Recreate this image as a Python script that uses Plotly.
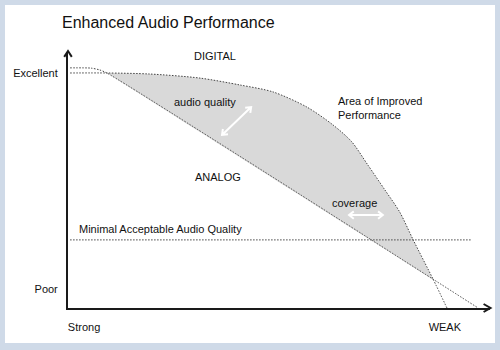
import numpy as np
import plotly.graph_objects as go

# Signal strength runs 0 (strong) .. 100 (weak); audio quality 0 (poor) .. 100
signal_digital = [0.5, 9.2, 19.4, 31.3, 40.8, 48.6, 56.6, 62.8, 67.2, 71.0, 75.1, 78.6, 81.8, 86.5, 89.8]
quality_digital = [91.8, 91.8, 91.4, 89.8, 87.1, 84.4, 78.5, 71.5, 65.0, 56.0, 46.1, 37.5, 26.6, 11.3, 0.0]
signal_analog = [0.5, 5.5, 7.5, 9.2, 97.2]
quality_analog = [93.8, 93.7, 93.0, 91.8, 0.0]
minimal_quality = 26.6
minimal_span = [0.5, 95.5]

tick_quality = [91.8, 7.4]
tick_quality_text = ["Excellent", "Poor"]
tick_signal = [3.8, 89.3]
tick_signal_text = ["Strong", "WEAK"]

FONT = "Liberation Sans, Arial, sans-serif"
INK = "#111111"
AXIS = "#1a1a1a"
CURVE = "#444444"
FILL = "#d9d9d9"
FRAME = "#cfdae8"

W, H = 500, 350
ML, MR, MT, MB = 68, 10, 52, 42
PW, PH = W - ML - MR, H - MT - MB


def to_px(x, y):
    return ML + x / 100 * PW, H - MB - y / 100 * PH


def px_to_paper(px, py):
    return (px - ML) / PW, (H - MB - py) / PH


def px_to_data(px, py):
    return (px - ML) / PW * 100, (H - MB - py) / PH * 100


# Region between the curves: from where they part to where they cross again
dx = np.array(signal_digital)
dq = np.array(quality_digital)
aq_at_d = np.interp(dx, signal_analog, quality_analog)
diff = dq - aq_at_d
start = 1
k = next(i for i in range(start + 1, len(dx)) if diff[i] < 0)
t = diff[k - 1] / (diff[k - 1] - diff[k])
cross_x = dx[k - 1] + t * (dx[k] - dx[k - 1])
cross_y = dq[k - 1] + t * (dq[k] - dq[k - 1])
# corner points are repeated so the smoothed outline keeps sharp tips
poly_x = [signal_digital[start]] + list(dx[start:k]) + [cross_x, cross_x, signal_digital[start], signal_digital[start]]
poly_y = [quality_digital[start]] + list(dq[start:k]) + [cross_y, cross_y, quality_digital[start], quality_digital[start]]

fig = go.Figure()
fig.add_trace(go.Scatter(x=poly_x, y=poly_y, fill="toself", fillcolor=FILL,
                         mode="lines", line=dict(width=0, shape="spline", smoothing=0.8),
                         hoverinfo="skip"))
dotted = dict(color=CURVE, width=1, dash="1.5px,1.5px")
fig.add_trace(go.Scatter(x=signal_digital, y=quality_digital, mode="lines",
                         line=dict(dotted, shape="spline", smoothing=0.8), hoverinfo="skip"))
fig.add_trace(go.Scatter(x=signal_analog, y=quality_analog, mode="lines",
                         line=dict(dotted, shape="spline", smoothing=0.6), hoverinfo="skip"))
fig.add_trace(go.Scatter(x=minimal_span, y=[minimal_quality] * 2, mode="lines",
                         line=dotted, hoverinfo="skip"))


def chevron_pts(tip, back, arm, spread):
    """Pixel points of an open arrow head at tip, pointing away from back."""
    ang = np.arctan2(back[1] - tip[1], back[0] - tip[0])
    return [(tip[0] + arm * np.cos(ang - spread), tip[1] + arm * np.sin(ang - spread)),
            tip,
            (tip[0] + arm * np.cos(ang + spread), tip[1] + arm * np.sin(ang + spread))]


def path_from(points, conv):
    segs = []
    for i, p in enumerate(points):
        x, y = conv(*p)
        segs.append(f"{'M' if i == 0 else 'L'} {x:.4f},{y:.4f}")
    return " ".join(segs)


def double_arrow(a, b, color, width, arm=6.0, spread=np.radians(38)):
    pa, pb = to_px(*a), to_px(*b)
    path = " ".join([
        path_from([pa, pb], px_to_data),
        path_from(chevron_pts(pa, pb, arm, spread), px_to_data),
        path_from(chevron_pts(pb, pa, arm, spread), px_to_data),
    ])
    fig.add_shape(type="path", path=path, xref="x", yref="y",
                  line=dict(color=color, width=width))


# White double arrows inside the shaded region
double_arrow((36.5, 67.6), (43.4, 78.5), "white", 2)
double_arrow((66.6, 36.3), (74.6, 36.3), "white", 2)

# Open arrow heads at the ends of both axes (paper refs so they are not clipped)
x_tip = (W - MR + 0.5, H - MB)
fig.add_shape(type="path", xref="paper", yref="paper",
              path=path_from(chevron_pts(x_tip, (x_tip[0] - 10, x_tip[1]), 8, np.radians(30)), px_to_paper),
              line=dict(color=AXIS, width=2))
y_tip = (ML, MT - 1)
fig.add_shape(type="path", xref="paper", yref="paper",
              path=path_from(chevron_pts(y_tip, (y_tip[0], y_tip[1] + 10), 7, np.radians(33)), px_to_paper),
              line=dict(color=AXIS, width=2))

# White panel inside the light-blue frame
fig.add_shape(type="rect", xref="paper", yref="paper", layer="below",
              x0=(5 - ML) / PW, x1=(495 - ML) / PW,
              y0=(H - MB - 343) / PH, y1=(H - MB - 5) / PH,
              fillcolor="white", line=dict(width=0))


def label(text, x, y, xanchor="center", align="center", angle=0):
    fig.add_annotation(text=text, x=x, y=y, xref="x", yref="y", showarrow=False,
                       xanchor=xanchor, yanchor="middle", align=align, textangle=angle,
                       font=dict(family=FONT, size=11, color=INK))


label("DIGITAL", 34.8, 98.4)
label("audio quality", 32.5, 80.5)
label("ANALOG", 35.5, 51.2)
label("coverage", 68.0, 41.0)
label("Area of Improved<br>Performance", 63.5, 78.3, xanchor="left", align="left")
label("Minimal Acceptable Audio Quality", 2.1, 30.9, xanchor="left")
label("SIGNAL STRENGTH", 48.1, -6.6)
label("AUDIO QUALITY", -5.45, 53.1, angle=-90)

fig.update_layout(
    width=W, height=H,
    margin=dict(l=ML, r=MR, t=MT, b=MB),
    paper_bgcolor=FRAME, plot_bgcolor="white",
    showlegend=False,
    title=dict(text="Enhanced Audio Performance", xref="container", yref="container",
               x=62 / W, y=1 - 22 / H, xanchor="left", yanchor="middle",
               font=dict(family=FONT, size=16, color=INK)),
    xaxis=dict(range=[0, 100], showgrid=False, zeroline=False, showline=True,
               linecolor=AXIS, linewidth=2, ticks="", tickvals=tick_signal,
               ticktext=tick_signal_text, ticklabelstandoff=8,
               tickfont=dict(family=FONT, size=11, color=INK), fixedrange=True),
    yaxis=dict(range=[0, 100], showgrid=False, zeroline=False, showline=True,
               linecolor=AXIS, linewidth=2, ticks="", tickvals=tick_quality,
               ticktext=tick_quality_text, ticklabelstandoff=6,
               tickfont=dict(family=FONT, size=11, color=INK), fixedrange=True),
)

fig.write_html("out.html", config={"displayModeBar": False})
